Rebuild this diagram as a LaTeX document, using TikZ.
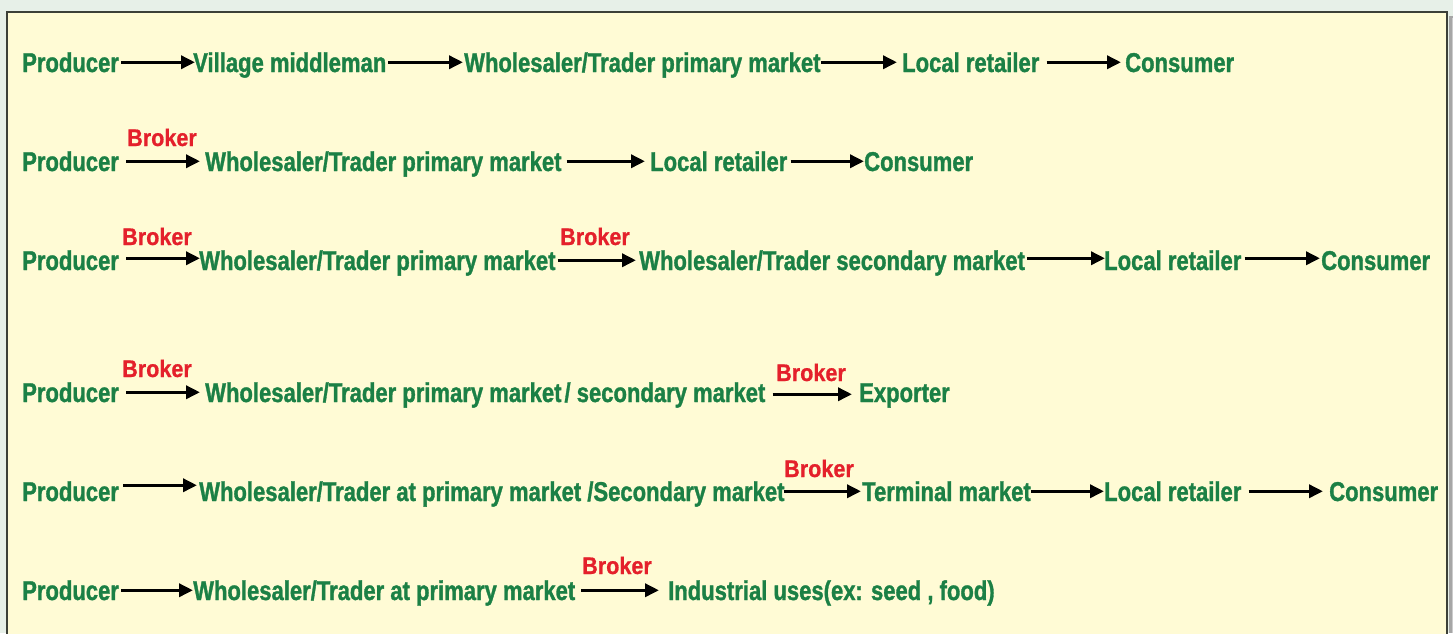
\documentclass[tikz,border=0pt]{standalone}
\usepackage{fontspec}
\setmainfont{Liberation Sans}[FakeStretch=0.81]
\newfontfamily\greenfont{Liberation Sans Bold}[FakeStretch=0.81,FakeBold=1.2]
\newfontfamily\brokerfont{Liberation Sans Bold}[FakeStretch=0.90,FakeBold=0.8]
\usetikzlibrary{arrows.meta}
\definecolor{chgreen}{HTML}{1B8045}
\definecolor{chred}{HTML}{E4202B}
\definecolor{cream}{HTML}{FFFBD5}
\definecolor{outerbg}{HTML}{E7F0E8}
\definecolor{boxline}{HTML}{3C4038}
\tikzset{
  txt/.style={inner sep=0pt, anchor=base west, text=chgreen,
    font=\greenfont\fontsize{27.2}{30}\selectfont, text height=19.5pt, text depth=0pt},
  brk/.style={inner sep=0pt, anchor=base west, text=chred,
    font=\brokerfont\fontsize{24}{28}\selectfont},
  arr/.style={line width=3.4pt, -{Triangle[length=14pt,width=13pt]}}
}
\begin{document}
\begin{tikzpicture}[x=1pt,y=-1pt]
\useasboundingbox (0,0) rectangle (1453,633);
\fill[outerbg] (0,0) rectangle (1453,633);
\fill[black!35] (1449,16) rectangle (1453,633);
\fill[black!20] (1452,18) rectangle (1453,633);
\draw[boxline, line width=1.6pt, fill=cream] (7,12) rectangle (1447,640);

% Row 1
\node[txt] (p1) at (22,72) {Producer};
\node[txt] (v1) at (193,72) {Village middleman};
\node[txt] (w1) at (464,72) {Wholesaler/Trader primary market};
\node[txt] (l1) at (902,72) {Local retailer};
\node[txt] (c1) at (1125,72) {Consumer};
\draw[arr] ([xshift=2pt]p1.east) -- ([xshift=2pt]v1.west);
\draw[arr] ([xshift=2pt]v1.east) -- ([xshift=-1pt]w1.west);
\draw[arr] ([xshift=0pt]w1.east) -- ([xshift=-5pt]l1.west);
\draw[arr] ([xshift=7pt]l1.east) -- ([xshift=-4pt]c1.west);

% Row 2
\node[txt] (p2) at (22,171) {Producer};
\node[brk] (b2) at (127,146) {Broker};
\node[txt] (w2) at (205,171) {Wholesaler/Trader primary market};
\node[txt] (l2) at (650,171) {Local retailer};
\node[txt] (c2) at (864,171) {Consumer};
\draw[arr] ([xshift=7pt]p2.east) -- ([xshift=-5pt]w2.west);
\draw[arr] ([xshift=5pt]w2.east) -- ([xshift=-5pt]l2.west);
\draw[arr] ([xshift=3pt]l2.east) -- ([xshift=0pt]c2.west);

% Row 3
\node[txt] (p3) at (22,270) {Producer};
\node[brk] (b3a) at (122,245) {Broker};
\node[txt] (w3) at (199,270) {Wholesaler/Trader primary market};
\node[brk] (b3b) at (560,245) {Broker};
\node[txt] (s3) at (639,270) {Wholesaler/Trader secondary market};
\node[txt] (l3) at (1104,270) {Local retailer};
\node[txt] (c3) at (1321,270) {Consumer};
\draw[arr] ([xshift=7pt,yshift=2pt]p3.east) -- ([xshift=1pt,yshift=2pt]w3.west);
\draw[arr] ([xshift=2pt]w3.east) -- ([xshift=-3pt]s3.west);
\draw[arr] ([xshift=2pt,yshift=2pt]s3.east) -- ([xshift=1pt,yshift=2pt]l3.west);
\draw[arr] ([xshift=3pt,yshift=2pt]l3.east) -- ([xshift=-1pt,yshift=2pt]c3.west);

% Row 4
\node[txt] (p4) at (22,402) {Producer};
\node[brk] (b4a) at (122,377) {Broker};
\node[txt] (w4) at (205,402) {Wholesaler/Trader primary market\hspace{3pt}/ secondary market};
\node[brk] (b4b) at (776,381) {Broker};
\node[txt] (e4) at (859,402) {Exporter};
\draw[arr] ([xshift=7pt]p4.east) -- ([xshift=-5pt]w4.west);
\draw[arr] ([xshift=7pt,yshift=-2pt]w4.east) -- ([xshift=-7pt,yshift=-2pt]e4.west);

% Row 5
\node[txt] (p5) at (22,501) {Producer};
\node[txt] (w5) at (199,501) {Wholesaler/Trader at primary market /Secondary market};
\node[brk] (b5) at (784,477) {Broker};
\node[txt] (t5) at (862,501) {Terminal market};
\node[txt] (l5) at (1104,501) {Local retailer};
\node[txt] (c5) at (1329,501) {Consumer};
\draw[arr] ([xshift=4pt,yshift=6pt]p5.east) -- ([xshift=-2pt,yshift=6pt]w5.west);
\draw[arr] ([xshift=-1pt]w5.east) -- ([xshift=-1pt]t5.west);
\draw[arr] ([xshift=0pt]t5.east) -- ([xshift=0pt]l5.west);
\draw[arr] ([xshift=7pt]l5.east) -- ([xshift=-6pt]c5.west);

% Row 6
\node[txt] (p6) at (22,600) {Producer};
\node[txt] (w6) at (193,600) {Wholesaler/Trader at primary market};
\node[brk] (b6) at (582,574) {Broker};
\node[txt] (i6) at (668,600) {Industrial uses(ex: seed , food)};
\draw[arr] ([xshift=2pt]p6.east) -- ([xshift=0pt]w6.west);
\draw[arr] ([xshift=6pt]w6.east) -- ([xshift=-9pt]i6.west);
\end{tikzpicture}
\end{document}
